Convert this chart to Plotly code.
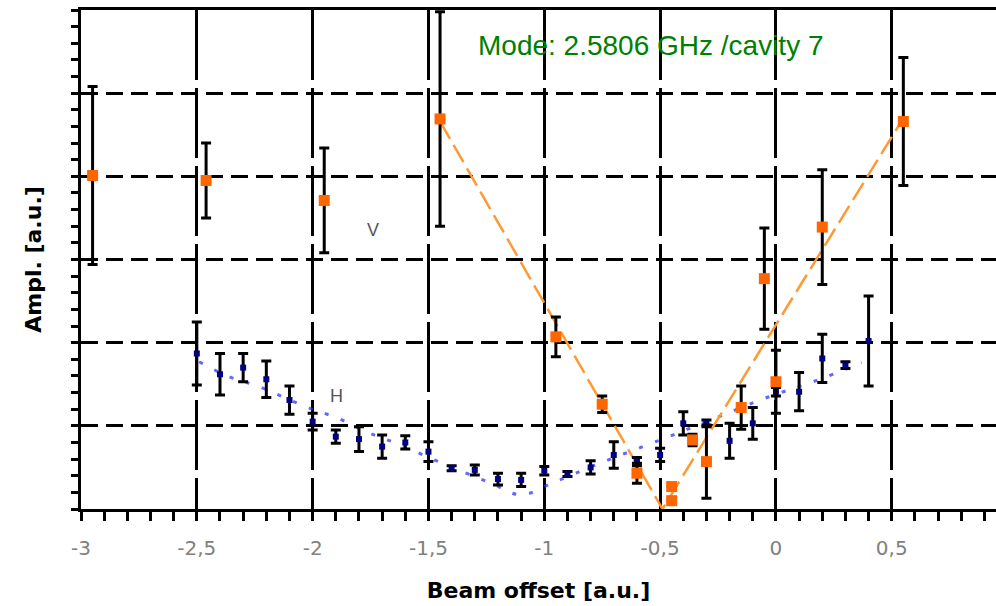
import plotly.graph_objects as go

# ---- data ----
v_x = [-2.95, -2.46, -1.95, -1.45, -0.95, -0.75, -0.60, -0.45, -0.45, -0.36, -0.30, -0.15, -0.05, 0.00, 0.20, 0.55]
v_y = [4.01, 3.95, 3.71, 4.69, 2.07, 1.26, 0.43, 0.27, 0.10, 0.83, 0.57, 1.22, 2.77, 1.53, 3.39, 4.66]
v_err = [1.07, 0.45, 0.63, 1.29, 0.24, 0.10, 0.12, 0.0, 0.0, 0.07, 0.44, 0.26, 0.61, 0.38, 0.69, 0.77]

v_fit_x = [-1.45, -0.49, 0.55]
v_fit_y = [4.66, 0.0, 4.70]

h_x = [-2.5, -2.4, -2.3, -2.2, -2.1, -2.0, -1.9, -1.8, -1.7, -1.6, -1.5, -1.4, -1.3, -1.2, -1.1,
       -1.0, -0.9, -0.8, -0.7, -0.6, -0.5, -0.4, -0.3, -0.2, -0.1, 0.0, 0.1, 0.2, 0.3, 0.4]
h_y = [1.87, 1.62, 1.70, 1.56, 1.31, 1.05, 0.87, 0.84, 0.75, 0.80, 0.69, 0.49, 0.47, 0.36, 0.35,
       0.46, 0.42, 0.50, 0.65, 0.57, 0.65, 1.03, 1.03, 0.82, 1.03, 1.41, 1.41, 1.81, 1.73, 2.02]
h_err = [0.38, 0.25, 0.17, 0.22, 0.17, 0.10, 0.08, 0.15, 0.14, 0.08, 0.12, 0.03, 0.06, 0.07, 0.08,
         0.05, 0.03, 0.08, 0.16, 0.05, 0.08, 0.14, 0.04, 0.21, 0.19, 0.05, 0.23, 0.29, 0.04, 0.54]

h_fit_x = [-2.49, -2.36, -2.23, -2.03, -1.89, -1.77, -1.63, -1.44, -1.23, -1.10, -0.96, -0.76, -0.50, -0.30, -0.03, 0.17, 0.37]
h_fit_y = [1.77, 1.59, 1.47, 1.23, 1.09, 0.93, 0.78, 0.55, 0.31, 0.17, 0.32, 0.55, 0.83, 1.05, 1.35, 1.54, 1.76]

x_tickvals = [-3, -2.5, -2, -1.5, -1, -0.5, 0, 0.5]
x_ticktext = ["-3", "-2,5", "-2", "-1,5", "-1", "-0,5", "0", "0,5"]

fig = go.Figure()

fig.add_trace(go.Scatter(
    x=h_fit_x, y=h_fit_y, mode="lines", line_shape="spline",
    line=dict(color="rgba(50,50,255,0.75)", width=3, dash="4px,13px"),
    hoverinfo="skip"))

fig.add_trace(go.Scatter(
    x=v_fit_x, y=v_fit_y, mode="lines",
    line=dict(color="#FF9933", width=2.5, dash="20px,7px"),
    hoverinfo="skip"))

fig.add_trace(go.Scatter(
    x=h_x, y=h_y, mode="markers", name="H",
    marker=dict(symbol="square", size=6, color="#000080"),
    error_y=dict(type="data", array=h_err, color="black", thickness=3, width=5)))

fig.add_trace(go.Scatter(
    x=v_x, y=v_y, mode="markers", name="V",
    marker=dict(symbol="square", size=11, color="#FF6600"),
    error_y=dict(type="data", array=v_err, color="black", thickness=3, width=5)))

fig.add_annotation(x=-1.74, y=3.35, text="V", showarrow=False,
                   font=dict(family="Liberation Sans", size=18, color="#555555"))
fig.add_annotation(x=-1.895, y=1.36, text="H", showarrow=False,
                   font=dict(family="Liberation Sans", size=18, color="#555555"))
fig.add_annotation(x=-0.54, y=5.57, text="Mode: 2.5806 GHz /cavity 7", showarrow=False,
                   font=dict(family="Liberation Sans", size=28, color="#008000"))

fig.update_layout(
    width=996, height=606,
    margin=dict(l=81, r=0, t=10, b=97),
    paper_bgcolor="white", plot_bgcolor="white",
    showlegend=False,
    xaxis=dict(
        range=[-3, 0.95], tickvals=x_tickvals, ticktext=x_ticktext,
        showline=True, linecolor="black", linewidth=3, mirror=True,
        ticks="outside", ticklen=9, tickwidth=2.5, tickcolor="black",
        ticklabelstandoff=10,
        tickfont=dict(family="DejaVu Sans", size=20, color="#808080"),
        showgrid=True, gridcolor="black", gridwidth=2.5, griddash="70px,8px",
        minor=dict(dtick=0.1, ticks="outside", ticklen=9, tickwidth=2.5, tickcolor="black", showgrid=False),
        zeroline=False,
        title=dict(text="Beam offset [a.u.]", standoff=24,
                   font=dict(family="DejaVu Sans", size=22, color="black", weight="bold")),
    ),
    yaxis=dict(
        range=[0, 6], dtick=1, showticklabels=False,
        showline=True, linecolor="black", linewidth=3,
        ticks="outside", ticklen=7, tickwidth=2.5, tickcolor="black",
        showgrid=True, gridcolor="black", gridwidth=2.5, griddash="17px,8px",
        minor=dict(dtick=0.2, ticks="outside", ticklen=7, tickwidth=2.5, tickcolor="black", showgrid=False),
        zeroline=False,
        title=dict(text="Ampl. [a.u.]", standoff=24,
                   font=dict(family="DejaVu Sans", size=22, color="black", weight="bold")),
    ),
)

fig.write_html("out.html")
